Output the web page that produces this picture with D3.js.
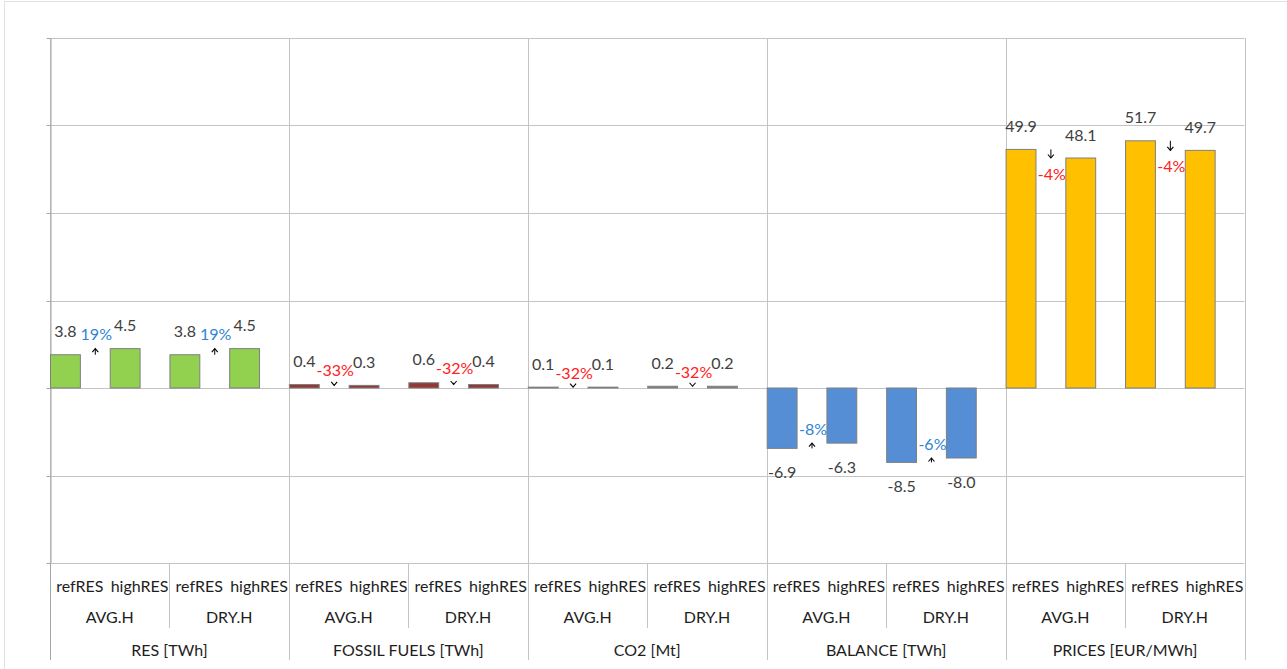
<!DOCTYPE html>
<html>
<head>
<meta charset="utf-8">
<script src="https://cdn.jsdelivr.net/npm/d3@7"></script>
<style>
  html, body { margin: 0; padding: 0; background: #fff; }
  svg { display: block; font-family: Lato, "Open Sans", sans-serif; }
</style>
</head>
<body>
<svg id="chart" width="1287" height="669"></svg>
<script>
// Measures, hydrology cases and scenarios along the category axis
const measures = ["RES [TWh]", "FOSSIL FUELS [TWh]", "CO2 [Mt]", "BALANCE [TWh]", "PRICES [EUR/MWh]"];
const hydroCases = ["AVG.H", "DRY.H"];
const scenarios = ["refRES", "highRES"];

// Values per measure: [AVG.H, DRY.H]
const refRES  = [[3.8, 3.8], [0.4, 0.6], [0.1, 0.2], [-6.9, -8.5], [49.9, 51.7]];
const highRES = [[4.5, 4.5], [0.3, 0.4], [0.1, 0.2], [-6.3, -8.0], [48.1, 49.7]];
// Relative change highRES vs refRES
const changeLabels = [["19%", "19%"], ["-33%", "-32%"], ["-32%", "-32%"], ["-8%", "-6%"], ["-4%", "-4%"]];

// Value axis ticks (primary scale); prices run on their own secondary scale
const primaryTicks = [-20, -10, 0, 10, 20, 30, 40];

// Styling per measure
const barColors = ["#92D050", "#953735", "#808080", "#558ED5", "#FFC000"];
const changeColors = ["#2f84d6", "#ff2020", "#ff2020", "#2f84d6", "#ff2020"];
const onSecondary = [false, false, false, false, true];

const svg = d3.select("#chart");
const W = 1287, H = 669;
const plot = { left: 50, right: 1244.5, top: 38, bottom: 563 };
const gridColor = "#c4c4c4";
const textColor = "#404040";
const fontSize = 16;

// chart frame
svg.append("line").attr("x1", 4).attr("x2", W).attr("y1", 1.5).attr("y2", 1.5)
  .attr("stroke", "#e2e2e2").attr("stroke-width", 1);
svg.append("line").attr("x1", 4.5).attr("x2", 4.5).attr("y1", 1.5).attr("y2", H)
  .attr("stroke", "#e2e2e2").attr("stroke-width", 1);

const y = d3.scaleLinear().domain([-20, 40]).range([plot.bottom, plot.top]);
const y2 = d3.scaleLinear().domain([-36.6, 73.2]).range([plot.bottom, plot.top]);

const xMeasure = d3.scaleBand().domain(measures).range([plot.left, plot.right]).padding(0);
const xHydro = d3.scaleBand().domain(hydroCases).range([0, xMeasure.bandwidth()]).padding(0);
const xScen = d3.scaleBand().domain(scenarios).range([0, xHydro.bandwidth()]).padding(0);
const barW = xScen.bandwidth() / 2;

// horizontal gridlines
svg.append("g").selectAll("line").data(primaryTicks).join("line")
  .attr("x1", plot.left).attr("x2", plot.right)
  .attr("y1", d => Math.round(y(d)) + 0.5).attr("y2", d => Math.round(y(d)) + 0.5)
  .attr("stroke", gridColor).attr("stroke-width", 1);

// vertical separators between measures (through plot and down the label rows)
const measureEdges = measures.map(m => xMeasure(m)).concat([plot.right]);
svg.append("g").selectAll("line").data(measureEdges).join("line")
  .attr("x1", d => Math.round(d) + 0.5).attr("x2", d => Math.round(d) + 0.5)
  .attr("y1", plot.top).attr("y2", 660)
  .attr("stroke", gridColor).attr("stroke-width", 1);

// separators between hydrology cases in the label rows
svg.append("g").selectAll("line").data(measures).join("line")
  .attr("x1", m => Math.round(xMeasure(m) + xHydro("DRY.H")) + 0.5)
  .attr("x2", m => Math.round(xMeasure(m) + xHydro("DRY.H")) + 0.5)
  .attr("y1", plot.bottom).attr("y2", 628)
  .attr("stroke", gridColor).attr("stroke-width", 1);

// left value axis: ticks only, no labels
const yAxis = d3.axisLeft(y).tickValues(primaryTicks).tickSize(4).tickSizeOuter(0).tickFormat("");
const gAxis = svg.append("g").attr("transform", `translate(${plot.left + 0.5},0)`).call(yAxis);
gAxis.selectAll("path, line").attr("stroke", "#a6a6a6");
gAxis.selectAll(".tick").attr("transform", d => `translate(0,${Math.round(y(d)) + 0.5})`);
svg.append("line").attr("x1", plot.left + 0.5).attr("x2", plot.left + 0.5)
  .attr("y1", plot.bottom).attr("y2", 660).attr("stroke", "#a6a6a6");

// flatten to one record per (measure, hydro)
const pairs = [];
measures.forEach((m, i) => hydroCases.forEach((h, j) => {
  pairs.push({ m, i, h, j, ref: refRES[i][j], high: highRES[i][j], change: changeLabels[i][j] });
}));
const bars = [];
pairs.forEach(p => {
  bars.push({ ...p, s: "refRES", v: p.ref });
  bars.push({ ...p, s: "highRES", v: p.high });
});

const scaleFor = i => onSecondary[i] ? y2 : y;

// bars
svg.append("g").selectAll("rect").data(bars).join("rect")
  .attr("x", d => xMeasure(d.m) + xHydro(d.h) + xScen(d.s) + 0.5)
  .attr("width", barW)
  .attr("y", d => Math.min(scaleFor(d.i)(d.v), scaleFor(d.i)(0)))
  .attr("height", d => Math.abs(scaleFor(d.i)(d.v) - scaleFor(d.i)(0)))
  .attr("fill", d => barColors[d.i])
  .attr("stroke", "#7f7f7f").attr("stroke-width", 1);

// value labels
svg.append("g").selectAll("text").data(bars).join("text")
  .attr("x", d => xMeasure(d.m) + xHydro(d.h) + xScen(d.s) + barW / 2 + 0.5)
  .attr("y", d => scaleFor(d.i)(d.v) + (d.v >= 0 ? -23 : 24))
  .attr("dy", "0.35em")
  .attr("text-anchor", "middle")
  .attr("font-size", fontSize)
  .attr("fill", textColor)
  .text(d => d.v.toFixed(1));

// change arrows, running from the refRES level to the highRES level
const arrowX = p => xMeasure(p.m) + xHydro(p.h) + xScen("refRES") + xScen.bandwidth() * 0.75 + 0.5;
const gArrows = svg.append("g");
pairs.forEach(p => {
  const sc = scaleFor(p.i);
  const x = arrowX(p);
  const y0 = sc(p.ref), y1 = sc(p.high);
  const dir = y1 < y0 ? -1 : 1; // -1 points up
  gArrows.append("line").attr("x1", x).attr("x2", x).attr("y1", y0).attr("y2", y1)
    .attr("stroke", "#000").attr("stroke-width", 1);
  gArrows.append("path")
    .attr("d", `M${x - 3},${y1 - dir * 3.5} L${x},${y1} L${x + 3},${y1 - dir * 3.5}`)
    .attr("fill", "none").attr("stroke", "#000").attr("stroke-width", 1.1);
});

// relative change labels
svg.append("g").selectAll("text").data(pairs).join("text")
  .attr("x", p => arrowX(p) + 1)
  .attr("y", p => {
    const sc = scaleFor(p.i);
    return onSecondary[p.i]
      ? sc(Math.min(p.ref, p.high)) + 16
      : sc(Math.max(p.ref, p.high)) - 14;
  })
  .attr("dy", "0.35em")
  .attr("text-anchor", "middle")
  .attr("font-size", fontSize)
  .attr("fill", p => changeColors[p.i])
  .text(p => p.change);

// category axis: three label rows
const gLabels = svg.append("g").attr("font-size", fontSize).attr("fill", "#1e1e1e").attr("text-anchor", "middle");
bars.forEach(d => {
  gLabels.append("text")
    .attr("x", xMeasure(d.m) + xHydro(d.h) + xScen(d.s) + xScen.bandwidth() / 2)
    .attr("y", 586).attr("dy", "0.35em").text(d.s);
});
pairs.forEach(p => {
  gLabels.append("text")
    .attr("x", xMeasure(p.m) + xHydro(p.h) + xHydro.bandwidth() / 2)
    .attr("y", 617).attr("dy", "0.35em").text(p.h);
});
measures.forEach(m => {
  gLabels.append("text")
    .attr("x", xMeasure(m) + xMeasure.bandwidth() / 2)
    .attr("y", 650).attr("dy", "0.35em").text(m);
});
</script>
</body>
</html>
